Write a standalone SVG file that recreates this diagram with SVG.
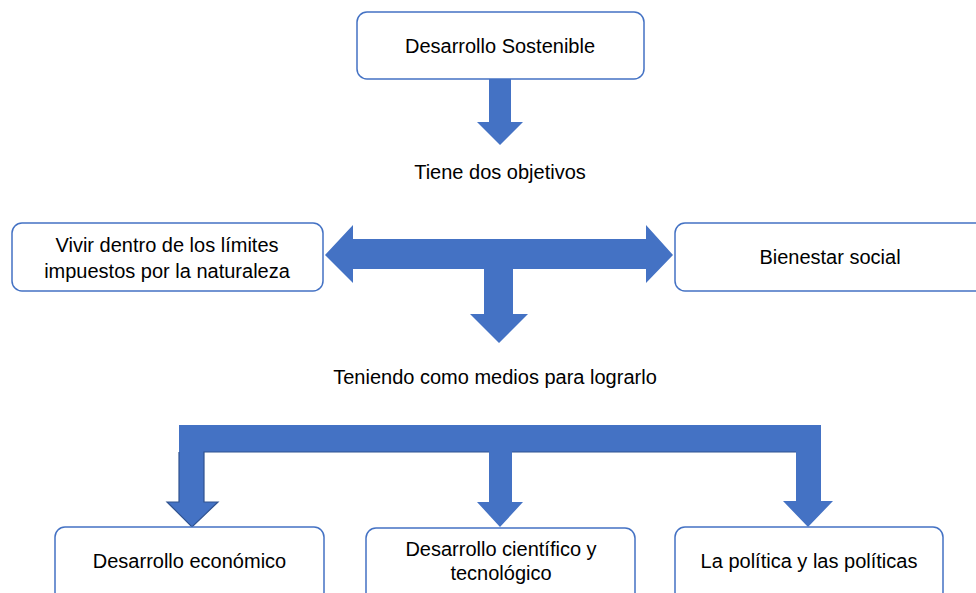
<svg xmlns="http://www.w3.org/2000/svg" width="976" height="593" viewBox="0 0 976 593">
<style>
.box{fill:#ffffff;stroke:#4472C4;stroke-width:1.5}
.arrow{fill:#4472C4;stroke:none}
.edge{fill:none;stroke:#2F528F;stroke-width:1.2}
text{font-family:"Liberation Sans",Arial,sans-serif;font-size:20px;fill:#000000;text-anchor:middle}
</style>
<rect width="976" height="593" fill="#ffffff"/>
<g id="connectors">
<polygon class="arrow" points="489,79 511,79 511,122 523,122 500,145 477,122 489,122"/>
<polygon class="arrow" points="325,255 353,225 353,239 646,239 646,225 673,255 646,283 646,269 513,269 513,314 528,314 499,343 470,314 484,314 484,269 353,269 353,283"/>
<polygon class="arrow" points="179,425 821,425 821,501 833,501 808,527 783,501 796,501 796,452 512,452 512,502 523,502 500,527 477,502 489,502 489,452 204,452 204,502 218,502 192,527 167,502 179,502"/>
<path class="edge" d="M179,452 L179,502 L167,502 L192,527 L218,502 L204,502 L204,452 L489,452 M512,452 L796,452"/>
</g>
<g id="n-desarrollo-sostenible">
<rect class="box" x="357" y="12" width="287" height="67" rx="10"/>
<text x="500" y="53">Desarrollo Sostenible</text>
</g>
<g id="t-objetivos">
<text x="500" y="179">Tiene dos objetivos</text>
</g>
<g id="n-vivir">
<rect class="box" x="12" y="223" width="311" height="68" rx="10"/>
<text x="167" y="252">Vivir dentro de los límites</text>
<text x="167" y="278">impuestos por la naturaleza</text>
</g>
<g id="n-bienestar">
<rect class="box" x="675" y="223" width="312" height="68" rx="10"/>
<text x="830" y="264">Bienestar social</text>
</g>
<g id="t-medios">
<text x="495" y="384">Teniendo como medios para lograrlo</text>
</g>
<g id="n-economico">
<rect class="box" x="55" y="527" width="269" height="75" rx="10"/>
<text x="189.5" y="568">Desarrollo económico</text>
</g>
<g id="n-cientifico">
<rect class="box" x="366" y="528" width="269" height="75" rx="10"/>
<text x="501" y="556">Desarrollo científico y</text>
<text x="501" y="580">tecnológico</text>
</g>
<g id="n-politica">
<rect class="box" x="675" y="527" width="268" height="75" rx="10"/>
<text x="809" y="568">La política y las políticas</text>
</g>
</svg>
